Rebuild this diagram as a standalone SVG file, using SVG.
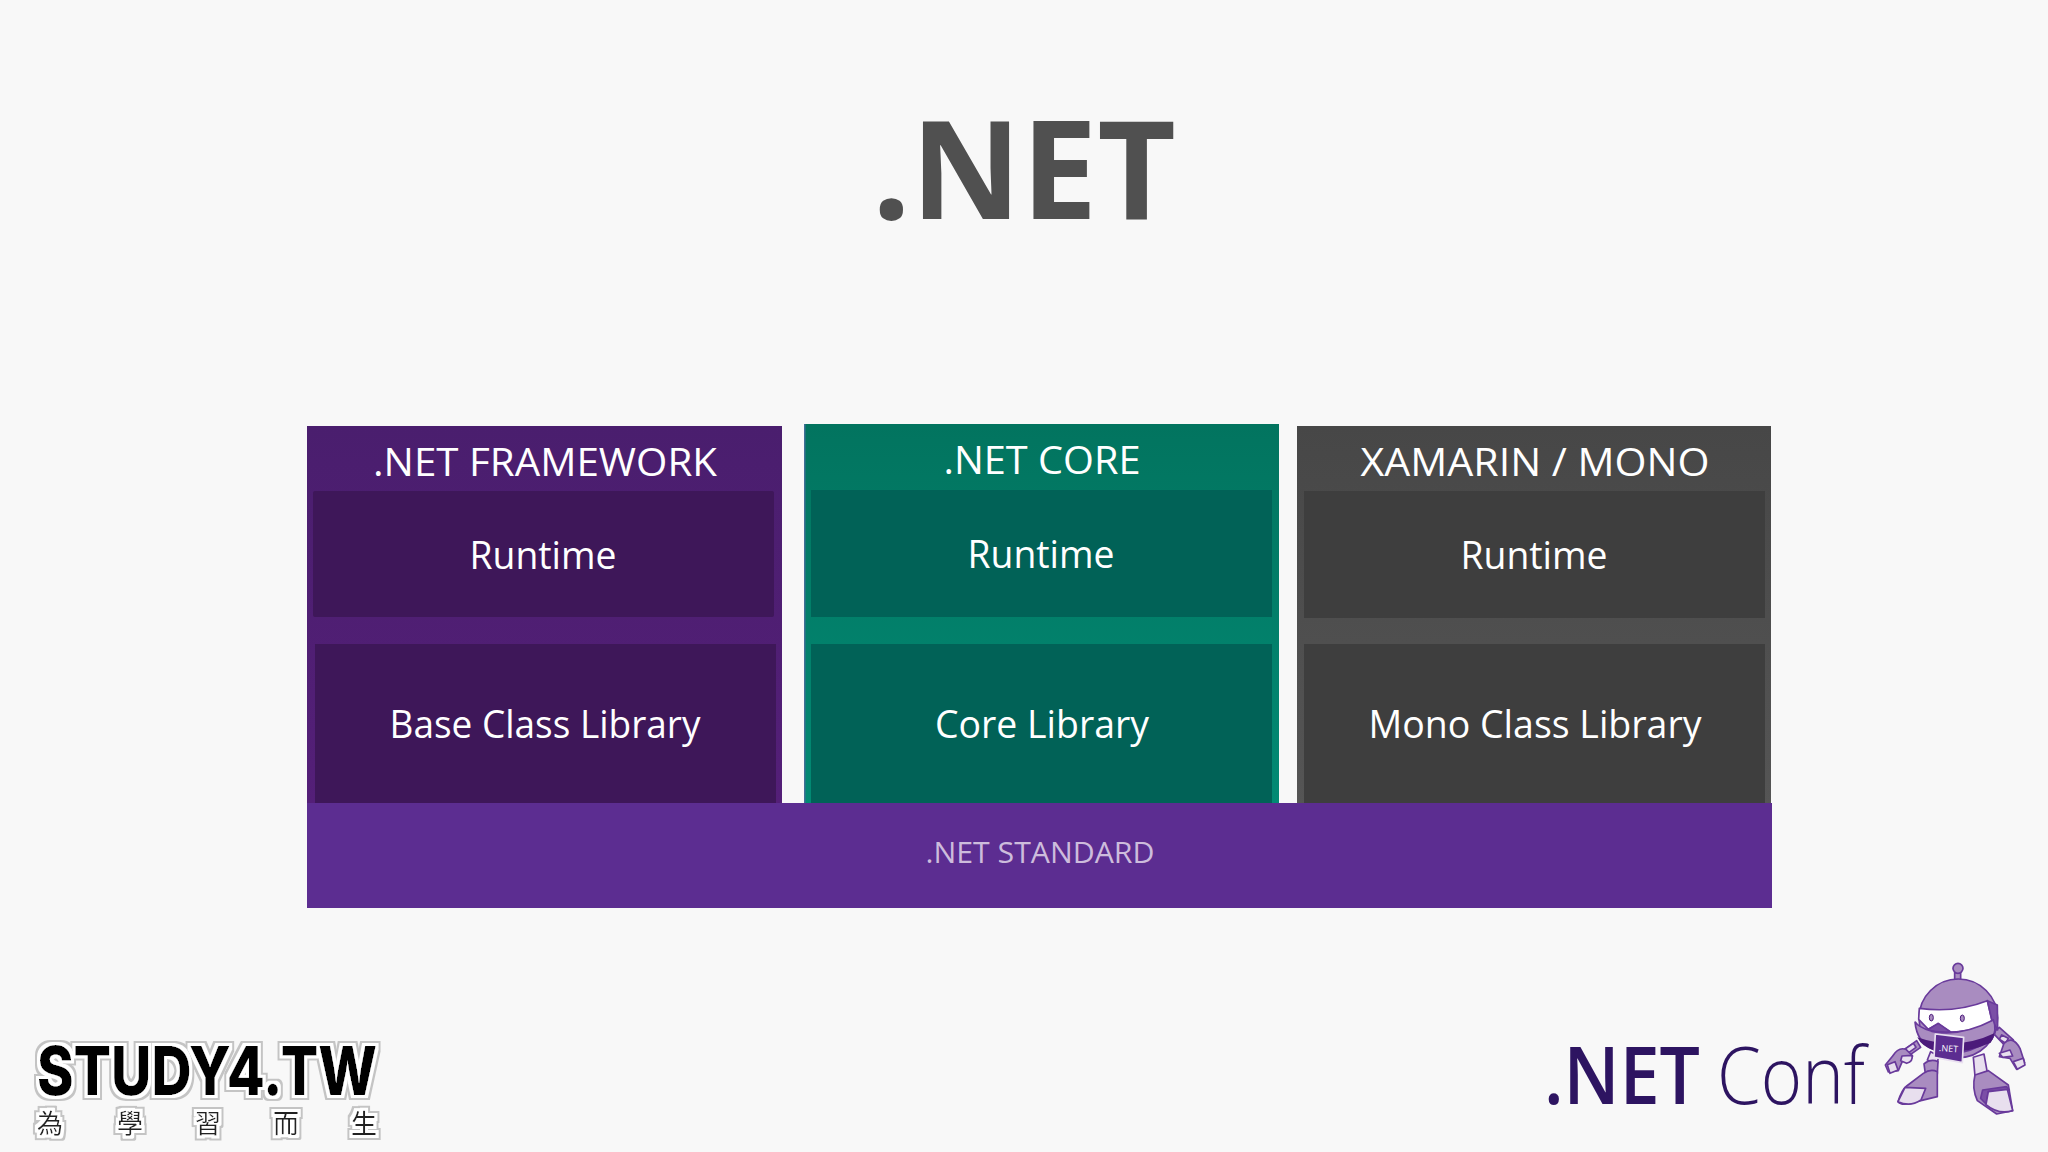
<svg xmlns="http://www.w3.org/2000/svg" width="2048" height="1152" viewBox="0 0 2048 1152">
<defs>
<linearGradient id="gf" x1="0" y1="0" x2="0" y2="1"><stop offset="0" stop-color="#4a1e6e"/><stop offset="1" stop-color="#541f78"/></linearGradient>
<linearGradient id="gc" x1="0" y1="0" x2="0" y2="1"><stop offset="0" stop-color="#02745f"/><stop offset="1" stop-color="#028a74"/></linearGradient>
<linearGradient id="gx" x1="0" y1="0" x2="0" y2="1"><stop offset="0" stop-color="#474747"/><stop offset="1" stop-color="#555555"/></linearGradient>
<filter id="halo" x="-10%" y="-30%" width="120%" height="160%">
<feMorphology in="SourceAlpha" operator="dilate" radius="4.500" result="d1"/>
<feFlood flood-color="#c4c4c4"/><feComposite in2="d1" operator="in" result="g"/>
<feMorphology in="SourceAlpha" operator="dilate" radius="3" result="d2"/>
<feFlood flood-color="#ffffff"/><feComposite in2="d2" operator="in" result="w"/>
<feMerge><feMergeNode in="g"/><feMergeNode in="w"/><feMergeNode in="SourceGraphic"/></feMerge>
</filter>
</defs>
<style>
text{font-family:"Open Sans","Noto Sans","Liberation Sans",sans-serif}
.h{font-size:39px;font-weight:500;fill:#fff;text-anchor:middle}
.l{font-size:38px;font-weight:500;fill:#fff;text-anchor:middle}
.rb{stroke:#693a9b;stroke-width:5;stroke-linejoin:round;fill:#a98cc0}
.rl{stroke:#693a9b;stroke-width:5;stroke-linejoin:round;fill:#e8dfee}
.rd{stroke:#693a9b;stroke-width:5;stroke-linejoin:round;fill:#7b4fa6}
.cjk{font-family:"Noto Sans CJK TC","Noto Sans CJK SC",sans-serif;font-size:26px;font-weight:400;fill:#222;text-anchor:middle}
</style>
<rect width="2048" height="1152" fill="#f8f8f8"/>
<text id="title" x="1024" y="219" font-size="137" font-weight="700" fill="#505050" text-anchor="middle" textLength="304" lengthAdjust="spacingAndGlyphs">.NET</text>

<g id="framework">
<rect x="307" y="426" width="475" height="380" fill="url(#gf)"/>
<rect x="313" y="491" width="461" height="126" rx="2" fill="#3e1759"/>
<rect x="315" y="644" width="461" height="160" fill="#3e1759"/>
<text class="h" x="545" y="476" textLength="344" lengthAdjust="spacingAndGlyphs">.NET FRAMEWORK</text>
<text class="l" x="543" y="569" textLength="147" lengthAdjust="spacingAndGlyphs">Runtime</text>
<text class="l" x="545" y="738" textLength="311" lengthAdjust="spacingAndGlyphs">Base Class Library</text>
</g>
<g id="core">
<rect x="804" y="424" width="475" height="382" fill="url(#gc)"/>
<rect x="804" y="424" width="1.5" height="382" fill="#3f6f96"/>
<rect x="811" y="490" width="461" height="127" fill="#016257"/>
<rect x="811" y="644" width="461" height="160" fill="#016257"/>
<text class="h" x="1042" y="474" textLength="197" lengthAdjust="spacingAndGlyphs">.NET CORE</text>
<text class="l" x="1041" y="568" textLength="147" lengthAdjust="spacingAndGlyphs">Runtime</text>
<text class="l" x="1042" y="738" textLength="214" lengthAdjust="spacingAndGlyphs">Core Library</text>
</g>
<g id="xamarin">
<rect x="1297" y="426" width="474" height="380" fill="url(#gx)"/>
<rect x="1304" y="491" width="461" height="127" fill="#3e3e3e"/>
<rect x="1304" y="644" width="461" height="160" fill="#3e3e3e"/>
<text class="h" x="1535" y="476" textLength="349" lengthAdjust="spacingAndGlyphs">XAMARIN / MONO</text>
<text class="l" x="1534" y="569" textLength="147" lengthAdjust="spacingAndGlyphs">Runtime</text>
<text class="l" x="1535" y="738" textLength="333" lengthAdjust="spacingAndGlyphs">Mono Class Library</text>
</g>
<g id="standard">
<rect x="307" y="803" width="1465" height="105" fill="#5c2d91"/>
<text x="1040" y="863" font-size="30" font-weight="500" fill="#cdbcdc" text-anchor="middle" textLength="229" lengthAdjust="spacingAndGlyphs">.NET STANDARD</text>
</g>

<g id="study4-logo" filter="url(#halo)">
<text x="37" y="1095" font-size="68" font-weight="800" fill="#050505" style="font-family:Inter,'Liberation Sans',sans-serif" textLength="340" lengthAdjust="spacingAndGlyphs">STUDY4.TW</text>
<text class="cjk" x="50" y="1133">為</text>
<text class="cjk" x="130" y="1133">學</text>
<text class="cjk" x="208" y="1133">習</text>
<text class="cjk" x="286" y="1133">而</text>
<text class="cjk" x="364" y="1133">生</text>
</g>

<g id="dotnetconf-logo">
<text x="1544" y="1104" font-size="79" font-weight="600" fill="#2d1461" textLength="156" lengthAdjust="spacingAndGlyphs">.NET</text>
<text x="1717" y="1104" font-size="79" font-weight="300" fill="#2d1461" textLength="148" lengthAdjust="spacingAndGlyphs">Conf</text>
</g>

<g id="robot" transform="translate(1860 950) scale(.3333)">
<path class="rb" d="M125 305L170 272L182 292L135 325Z"/>
<path class="rl" d="M135 297L160 280L168 292L143 310Z"/>
<path class="rb" d="M98 318Q115 290 138 298L158 318Q150 336 128 332L115 362L85 366L76 345Z"/>
<path class="rl" d="M126 318L156 316Q160 334 140 340L122 332Z"/>
<path class="rl" d="M82 344L105 335L114 360L90 370Z"/>
<path class="rb" d="M398 248L418 232L460 270L440 292Z"/>
<path class="rl" d="M425 255L445 265L437 280L418 268Z"/>
<path class="rb" d="M432 280Q458 255 480 295L494 338L470 358L450 325L418 320Z"/>
<path class="rl" d="M418 310L450 300L458 318L428 322Z"/>
<path class="rl" d="M460 335L490 325L495 345L472 358Z"/>
<path class="rl" d="M212 305L236 318L232 340L202 330Z"/>
<path class="rb" d="M192 342Q212 325 234 335L232 372L198 385Z"/>
<path class="rl" d="M340 322L372 312L382 368L345 378Z"/>
<path class="rb" d="M190 370Q212 355 232 365L232 440L170 455Q125 470 114 455Q125 420 140 408Z"/>
<path class="rl" d="M114 455L135 412L197 415L183 450Q150 472 114 455Z"/>
<path class="rb" d="M345 375L385 362L445 405L458 482L410 492L352 452Q335 415 345 375Z"/>
<path class="rd" d="M368 420L440 410L448 420L385 425L378 462L362 445Z"/>
<path class="rl" d="M385 425L442 418L458 482Q415 495 378 464Z"/>
<rect class="rb" x="284" y="68" width="18" height="28"/>
<ellipse class="rl" cx="290" cy="97" rx="16" ry="8"/>
<circle class="rb" cx="294" cy="55" r="15"/>
<circle class="rb" cx="295" cy="205" r="118"/>
<path d="M178 175Q285 190 382 152L396 212Q350 245 270 246L235 222L205 238L176 208Z" fill="#fff" stroke="#693a9b" stroke-width="5" stroke-linejoin="round"/>
<path class="rd" d="M382 152L412 165L413 240L396 212Z"/>
<path class="rd" d="M202 240L235 220L272 246Q235 248 202 240Z"/>
<path d="M165 215Q175 232 215 244Q300 262 400 210Q412 240 395 268Q300 330 225 300Q170 280 165 215Z" fill="#a98cc0" stroke="#693a9b" stroke-width="5"/>
<path d="M172 262Q290 304 403 250Q402 265 392 278Q300 318 225 303Q185 290 172 262Z" fill="#4b1a7a"/>
<ellipse cx="214" cy="203" rx="6" ry="10" fill="#a98cc0" stroke="#4b1a7a" stroke-width="3"/>
<ellipse cx="307" cy="205" rx="6" ry="10" fill="#a98cc0" stroke="#4b1a7a" stroke-width="3"/>
<path d="M226 252L311 262L307 338L222 322Z" fill="#5c2d91" stroke="#e9e0f0" stroke-width="5" stroke-linejoin="round"/>
<text x="265" y="305" font-size="27" fill="#fff" text-anchor="middle" transform="rotate(4 265 305)">.NET</text>
</g>
</svg>
